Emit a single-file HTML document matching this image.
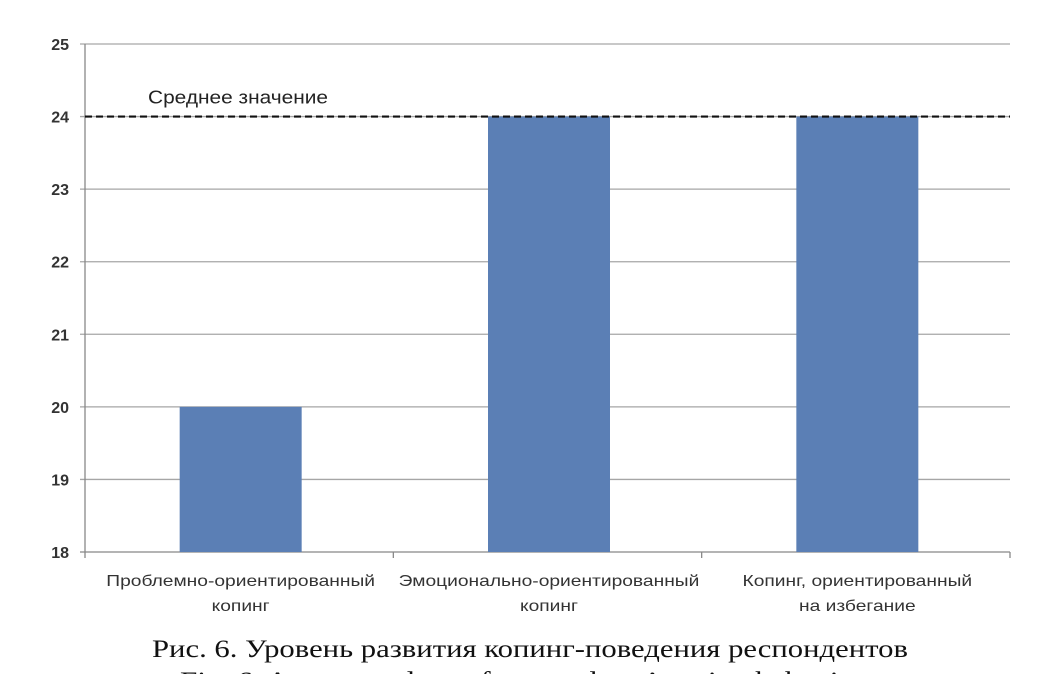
<!DOCTYPE html>
<html><head><meta charset="utf-8"><style>
body{margin:0;background:#fff;width:1058px;height:674px;overflow:hidden}
</style></head><body>
<svg id="chart" width="1058" height="674" xmlns="http://www.w3.org/2000/svg" font-family="'Liberation Sans', sans-serif"></svg>
<script>
const categories=[["Проблемно-ориентированный","копинг"],["Эмоционально-ориентированный","копинг"],["Копинг, ориентированный","на избегание"]];
const values=[20,24,24];
const yTicks=[18,19,20,21,22,23,24,25];
const meanValue=24;
const NS="http://www.w3.org/2000/svg";
const svg=document.getElementById('chart');
const x0=85,x1=1010,yTop=44,yBot=552,yMin=18,yMax=25;
const y=v=>yBot-(v-yMin)/(yMax-yMin)*(yBot-yTop);
const cw=(x1-x0)/categories.length;
function mk(t,a,txt){const e=document.createElementNS(NS,t);for(const k in a)e.setAttribute(k,a[k]);if(txt!==undefined)e.textContent=txt;svg.appendChild(e);return e;}
yTicks.forEach(t=>{
 const g=mk('line',{x1:x0-5,x2:x1,y1:y(t),y2:y(t),stroke:t===yMin?'#888':'#a6a6a6','stroke-width':1.3});
 
 
 const l=mk('text',{x:x0-16,y:y(t)+6,'text-anchor':'end','font-size':16,'font-weight':'bold',fill:'#333'},t);
 
 
});
const ax=mk('line',{x1:x0,x2:x0,y1:yTop,y2:yBot,stroke:'#888','stroke-width':1.3});


for(let i=0;i<=categories.length;i++){
 const tk=mk('line',{x1:x0+i*cw,x2:x0+i*cw,y1:yBot,y2:yBot+6,stroke:'#888','stroke-width':1.3});
 
 
}
const bw=122;
const lenScale=1.2;
values.forEach((v,i)=>{
 const cx=x0+cw*(i+0.5)+1.5;
 const b=mk('rect',{x:cx-bw/2,y:y(v),width:bw,height:yBot-y(v),fill:'#5b7fb5'});
 
 
 categories[i].forEach((s,j)=>{
  const t=mk('text',{x:cx,y:586+j*25,'text-anchor':'middle','font-size':16,fill:'#333'},s);
  
  
  const w=t.getComputedTextLength();
  t.setAttribute('textLength',w*lenScale);
  t.setAttribute('lengthAdjust','spacingAndGlyphs');
 });
});
const m=mk('line',{x1:x0,x2:x1,y1:y(meanValue),y2:y(meanValue),stroke:'#111','stroke-width':2.2,'stroke-dasharray':'7,4'});


const ml=mk('text',{x:148,y:y(meanValue)-13,'font-size':18,fill:'#222',textLength:180,lengthAdjust:'spacingAndGlyphs'},'Среднее значение');


const c1=mk('text',{x:152,y:657,'font-size':25,'font-family':"'Liberation Serif', serif",fill:'#111',textLength:756,lengthAdjust:'spacingAndGlyphs'},'Рис. 6. Уровень развития копинг-поведения респондентов');


const c2=mk('text',{x:180,y:689,'font-size':25,'font-family':"'Liberation Serif', serif",fill:'#111',textLength:700,lengthAdjust:'spacingAndGlyphs'},'Fig. 6. Average values of respondents’ coping behaviour');


</script>
</body></html>
